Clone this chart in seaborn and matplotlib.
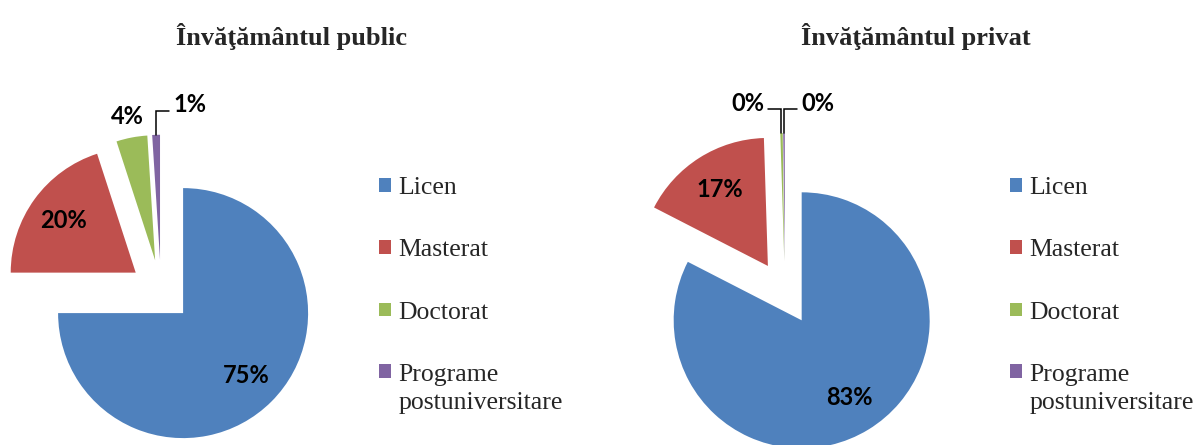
# %%
import numpy as np
import matplotlib
matplotlib.use("Agg")
import matplotlib.pyplot as plt
import seaborn as sns

# %%
# data
categories = ["Licen", "Masterat", "Doctorat", "Programe\npostuniversitare"]
public_values = [75, 20, 4, 1]
private_values = [82.8, 17.0, 0.3, 0.2]   # the two small ones show as 0%
public_title = "Învăţământul public"
private_title = "Învăţământul privat"

colors = ["#4F81BD", "#C0504D", "#9BBB59", "#8064A2"]

# %%
sns.set_theme(style="white")
plt.rcParams["font.family"] = ["Liberation Serif", "DejaVu Serif"]

W, H = 1201, 445
fig = plt.figure(figsize=(W / 100, H / 100), dpi=100)
TOP = 390  # top of the pie axes, pixels from the bottom


def draw_pie(left, width, cx, cy, r, values, title, modes, leg_x):
    ax = fig.add_axes([left / W, 0, width / W, TOP / H])
    wedges, _ = ax.pie(values, colors=colors, startangle=90, counterclock=False,
                       explode=[0.25] * len(values), radius=1,
                       wedgeprops=dict(linewidth=0))
    ax.set_aspect("auto")
    ax.set_xlim(-(cx - left) / r, (left + width - cx) / r)
    ax.set_ylim(-cy / r, (TOP - cy) / r)
    ax.set_title(title, fontsize=19, fontweight="bold", pad=7)

    px = 1.0 / r
    for w, v, mode in zip(wedges, values, modes):
        t = np.deg2rad((w.theta1 + w.theta2) / 2)
        c = np.array(w.center)
        d = np.array([np.cos(t), np.sin(t)])
        lab = f"{round(v)}%"
        kw = dict(fontsize=17, fontweight="bold", family="Lato", color="black")
        if mode == "in":
            p = c + 0.71 * d
            ax.text(p[0], p[1], lab, ha="center", va="center", **kw)
        elif mode == "out":
            p = c + 1.17 * d
            ax.text(p[0], p[1], lab, ha="center", va="center", **kw)
        else:
            sgn = 1 if mode == "right" else -1
            tip = c + d
            elbow = tip + np.array([0, 24 * px])
            end = elbow + np.array([sgn * 13 * px, 0])
            ax.plot([tip[0], elbow[0], end[0]], [tip[1], elbow[1], end[1]],
                    color="black", lw=1.1, solid_joinstyle="miter")
            ax.text(end[0] + sgn * 4 * px, end[1] + 6 * px, lab,
                    ha="left" if sgn > 0 else "right", va="center", **kw)

    leg = ax.legend(wedges, categories, loc="upper left",
                    bbox_to_anchor=(leg_x / W, 268 / H), bbox_transform=fig.transFigure,
                    frameon=False, fontsize=18.5, handlelength=0.45, handleheight=0.45,
                    handletextpad=0.3, labelspacing=1.57, borderpad=0, borderaxespad=0)
    for txt in leg.get_texts():
        txt.set_linespacing(1.38)
    # keep the last marker next to the first line of its two-line label
    last = leg.legend_handles[-1]
    last.set_y(last.get_y() + 12.7)
    return ax


draw_pie(0, 582, 161, 154, 125, public_values, public_title,
         ["in", "in", "out", "right"], 379)
draw_pie(630, 571, 785, 152, 128, private_values, private_title,
         ["in", "in", "left", "right"], 1010)

fig.savefig("out.png", dpi=100)
